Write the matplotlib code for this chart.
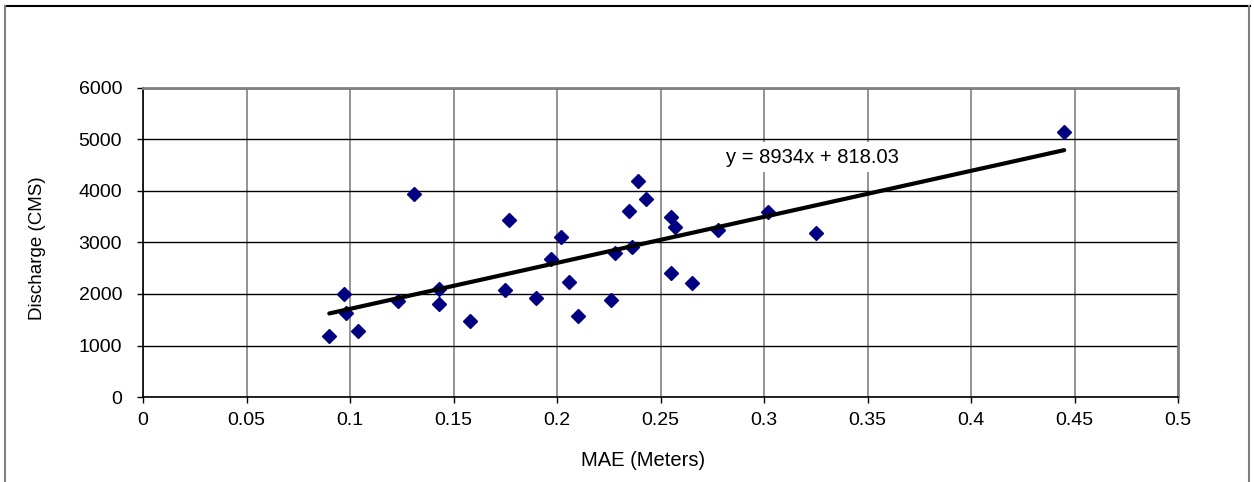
import numpy as np
import matplotlib.pyplot as plt
from matplotlib.lines import Line2D

plt.rcParams['font.family'] = ['Liberation Sans', 'DejaVu Sans']

# MAE (m) vs discharge (CMS)
mae = [0.090, 0.097, 0.098, 0.104, 0.123, 0.131, 0.143, 0.143, 0.158, 0.175,
       0.177, 0.190, 0.197, 0.202, 0.206, 0.210, 0.226, 0.228, 0.235, 0.236,
       0.239, 0.243, 0.255, 0.255, 0.257, 0.265, 0.278, 0.302, 0.325, 0.445]
discharge = [1180, 2000, 1640, 1280, 1870, 3940, 2100, 1800, 1470, 2080,
             3440, 1930, 2670, 3110, 2240, 1580, 1890, 2800, 3610, 2910,
             4200, 3840, 3500, 2400, 3310, 2220, 3250, 3600, 3180, 5150]

# trendline as printed on the chart
slope = 8934
intercept = 818.03

xticks = [0, 0.05, 0.1, 0.15, 0.2, 0.25, 0.3, 0.35, 0.4, 0.45, 0.5]
xticklabels = ['0', '0.05', '0.1', '0.15', '0.2', '0.25', '0.3', '0.35', '0.4', '0.45', '0.5']
yticks = [0, 1000, 2000, 3000, 4000, 5000, 6000]

W, H = 1254, 482
fig = plt.figure(figsize=(W / 100, H / 100), dpi=100)

# outer chart frame (top black, sides gray, bottom cut off)
fig.add_artist(Line2D([5 / W, 1250 / W], [1 - 6 / H, 1 - 6 / H], color='black', lw=1.5))
fig.add_artist(Line2D([5 / W, 5 / W], [0, 1 - 6 / H], color='#808080', lw=1.5))
fig.add_artist(Line2D([1249 / W, 1249 / W], [0, 1 - 6 / H], color='#808080', lw=1.5))

ax = fig.add_axes([143 / W, 1 - 397 / H, (1178 - 143) / W, (397 - 88) / H])

ax.set_xlim(0, 0.5)
ax.set_ylim(0, 6000)
ax.set_xticks(xticks)
ax.set_xticklabels(xticklabels)
ax.set_yticks(yticks)

ax.xaxis.grid(True, color='#808080', lw=1.2)
ax.yaxis.grid(True, color='black', lw=1.0)
ax.set_axisbelow(True)

for side in ['top', 'right']:
    ax.spines[side].set_color('#808080')
    ax.spines[side].set_linewidth(2)
for side in ['left', 'bottom']:
    ax.spines[side].set_color('black')
    ax.spines[side].set_linewidth(1.2)

ax.tick_params(direction='out', length=4, width=1, labelsize=14, colors='black')
ax.tick_params(axis='y', pad=11)
ax.tick_params(axis='x', pad=7)

ax.plot(mae, discharge, linestyle='none', marker='D', markersize=7,
        color='#000080', zorder=3)

xfit = np.array([min(mae), max(mae)])
ax.plot(xfit, slope * xfit + intercept, color='black', lw=3, zorder=4,
        solid_capstyle='round')

ax.text(0.3235, 4660, 'y = 8934x + 818.03', fontsize=14.5, ha='center', va='center',
        bbox=dict(facecolor='white', edgecolor='none', pad=4), zorder=5)

fig.text(643 / W, 1 - 461 / H, 'MAE (Meters)', fontsize=14.5, ha='center', va='center')
fig.text(38 / W, 1 - 248 / H, 'Discharge (CMS)', fontsize=13.5, ha='center', va='center',
         rotation=90)

fig.savefig('out.png', dpi=100)
